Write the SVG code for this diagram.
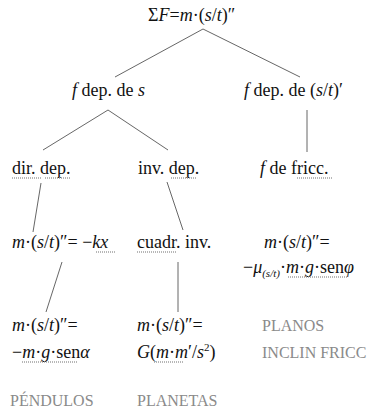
<svg xmlns="http://www.w3.org/2000/svg" width="377" height="409" viewBox="0 0 377 409" font-family="Liberation Serif, Times New Roman, serif">
<style>
text{font-size:18px;fill:#111}
.i{font-style:italic}
.g{fill:#8a8a8a;font-size:16px}
.sub{font-size:11px}
line.c{stroke:#555;stroke-width:0.9}
.sq{stroke:#a0a0a0;stroke-width:1.4;stroke-dasharray:1 1;fill:none}
</style>
<rect width="377" height="409" fill="#fff"/>
<g id="connectors">
<line class="c" x1="203" y1="29" x2="115" y2="77"/>
<line class="c" x1="203" y1="29" x2="300" y2="77"/>
<line class="c" x1="108" y1="110" x2="43" y2="150"/>
<line class="c" x1="108" y1="110" x2="168" y2="150"/>
<line class="c" x1="307" y1="110" x2="307" y2="152"/>
<line class="c" x1="41" y1="183" x2="33" y2="232"/>
<line class="c" x1="167" y1="182" x2="183" y2="230"/>
<line class="c" x1="62" y1="262" x2="46" y2="312"/>
<line class="c" x1="178" y1="262" x2="178" y2="312"/>
</g>
<g id="root"><text x="148" y="21">Σ<tspan class="i">F</tspan>=<tspan class="i">m</tspan>·(<tspan class="i">s</tspan>/<tspan class="i">t</tspan>)″</text></g>
<g id="fdeps"><text x="72" y="96"><tspan class="i">f</tspan> dep. de <tspan class="i">s</tspan></text></g>
<g id="fdepst"><text x="244" y="96"><tspan class="i">f</tspan> dep. de (<tspan class="i">s</tspan>/<tspan class="i">t</tspan>)′</text></g>
<g id="dirdep"><text x="12" y="174">dir. dep.</text>
<line class="sq" x1="12" y1="178" x2="42" y2="178"/><line class="sq" x1="45" y1="178" x2="70" y2="178"/></g>
<g id="invdep"><text x="138" y="174">inv. dep.</text>
<line class="sq" x1="171" y1="178" x2="197" y2="178"/></g>
<g id="fricc"><text x="260" y="174"><tspan class="i">f</tspan> de fricc.</text>
<line class="sq" x1="297" y1="178" x2="332" y2="178"/></g>
<g id="kx"><text x="12" y="248"><tspan class="i">m</tspan>·(<tspan class="i">s</tspan>/<tspan class="i">t</tspan>)″= −<tspan class="i">kx</tspan></text>
<line class="sq" x1="96" y1="252" x2="115" y2="252"/></g>
<g id="cuadr"><text x="137" y="248">cuadr. inv.</text>
<line class="sq" x1="137" y1="252" x2="177" y2="252"/></g>
<g id="friccf"><text x="264" y="248"><tspan class="i">m</tspan>·(<tspan class="i">s</tspan>/<tspan class="i">t</tspan>)″=</text>
<text x="243" y="273">−<tspan class="i">μ</tspan><tspan class="sub i" dy="4">(s/t)</tspan><tspan dy="-4">·</tspan><tspan class="i">m</tspan>·<tspan class="i">g</tspan>·sen<tspan class="i">φ</tspan></text>
<line class="sq" x1="288" y1="277" x2="348" y2="277"/></g>
<g id="pend"><text x="12" y="331"><tspan class="i">m</tspan>·(<tspan class="i">s</tspan>/<tspan class="i">t</tspan>)″=</text>
<text x="12" y="358">−<tspan class="i">m</tspan>·<tspan class="i">g</tspan>·sen<tspan class="i">α</tspan></text>
<line class="sq" x1="22" y1="362" x2="77" y2="362"/></g>
<g id="plan"><text x="137" y="331"><tspan class="i">m</tspan>·(<tspan class="i">s</tspan>/<tspan class="i">t</tspan>)″=</text>
<text x="137" y="358"><tspan class="i">G</tspan>(<tspan class="i">m</tspan>·<tspan class="i">m</tspan>′/<tspan class="i">s</tspan><tspan style="font-size:11px" dy="-7">2</tspan><tspan dy="7">)</tspan></text>
<line class="sq" x1="154" y1="362" x2="184" y2="362"/></g>
<g id="planos"><text class="g" x="262" y="331">PLANOS</text><text class="g" x="262" y="358">INCLIN FRICC</text></g>
<g id="pendulos"><text class="g" x="10" y="406">PÉNDULOS</text></g>
<g id="planetas"><text class="g" x="137" y="406">PLANETAS</text></g>
</svg>
